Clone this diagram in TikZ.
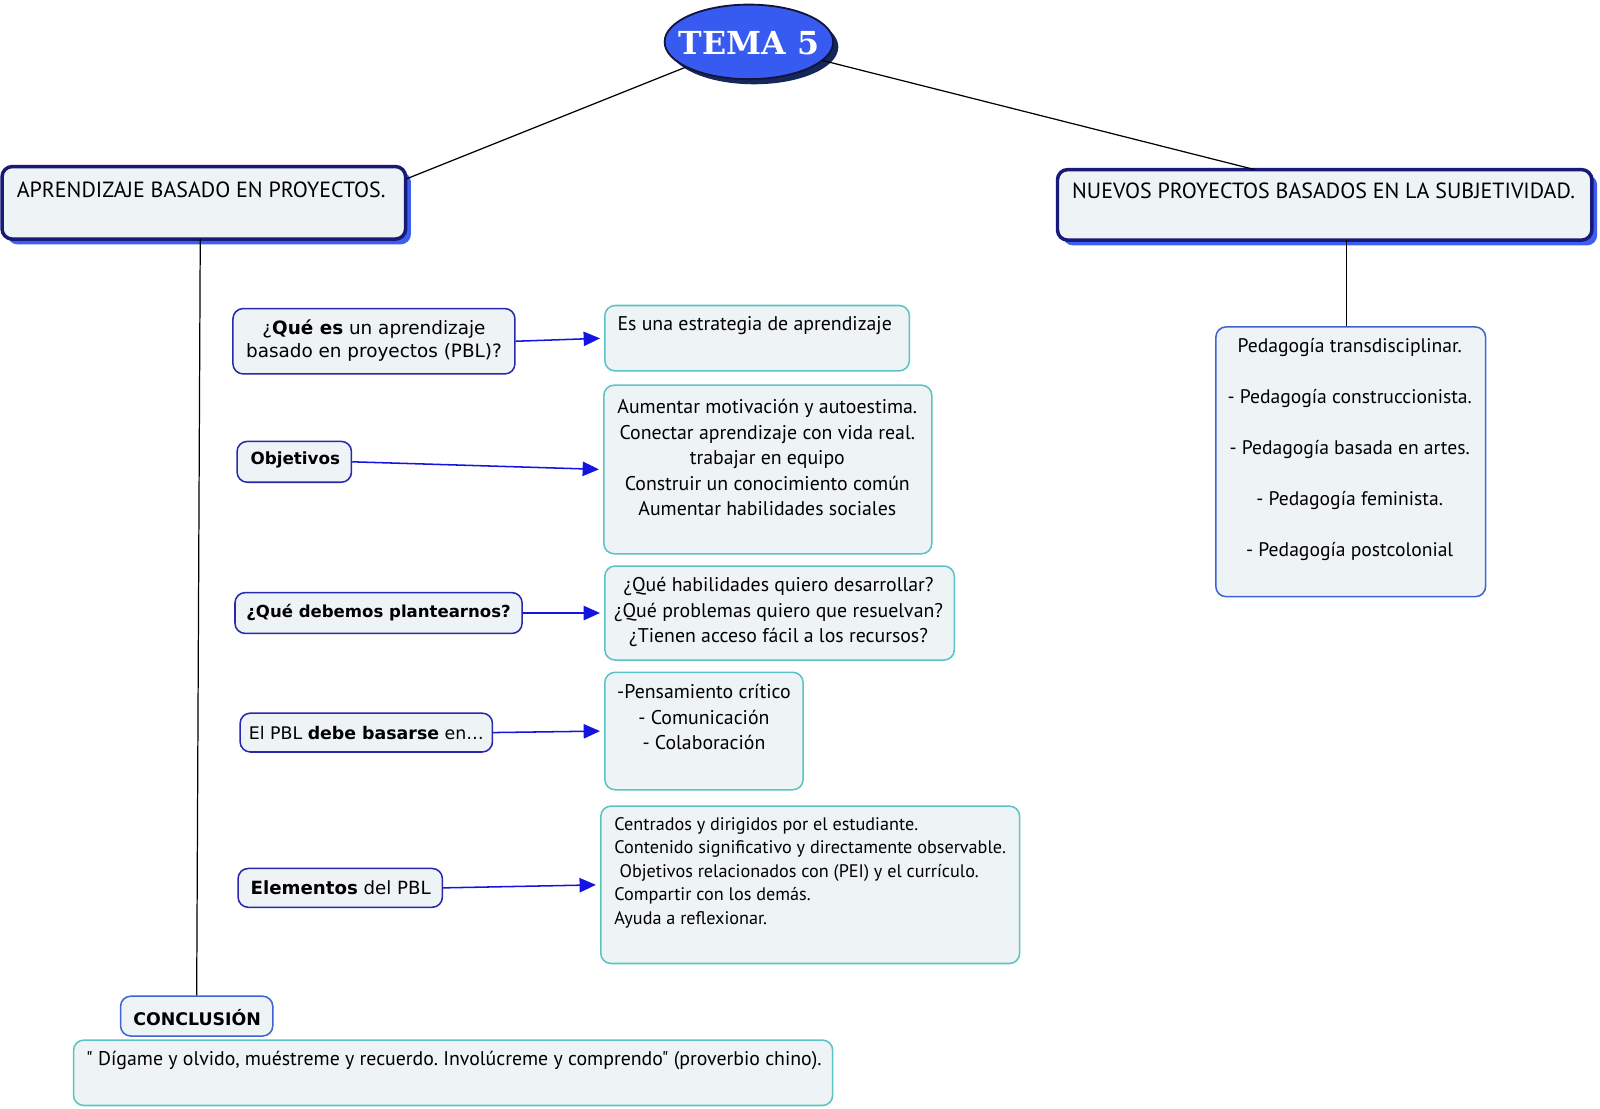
\documentclass[tikz,border=0pt]{standalone}
\usepackage{fontspec}
\usetikzlibrary{shapes.geometric,fit,shadows,arrows.meta}
\frenchspacing
\newfontfamily\cfont{PT Sans}
\newfontfamily\vfont{DejaVu Sans}
\newfontfamily\sfont{DejaVu Serif}
\definecolor{boxfill}{RGB}{238,243,246}
\definecolor{hdborder}{RGB}{25,25,120}
\definecolor{qborder}{RGB}{40,40,175}
\definecolor{shblue}{RGB}{60,95,240}
\definecolor{pborder}{RGB}{60,100,210}
\definecolor{teal}{RGB}{90,195,195}
\definecolor{arrblue}{RGB}{20,20,225}
\definecolor{temafill}{RGB}{55,90,240}
\definecolor{temaborder}{RGB}{20,20,60}
\definecolor{temashadow}{RGB}{20,40,90}
\tikzset{
  hdbox/.style={draw=hdborder, line width=1.7pt, fill=boxfill, rounded corners=5pt, inner sep=0pt,
    drop shadow={shadow xshift=2.6pt, shadow yshift=-2.6pt, fill=shblue, opacity=1}},
  qbox/.style={draw=qborder, line width=0.75pt, fill=boxfill, rounded corners=5pt, inner sep=0pt},
  abox/.style={draw=teal, line width=0.75pt, fill=boxfill, rounded corners=5pt, inner sep=0pt},
  pbox/.style={draw=pborder, line width=0.75pt, fill=boxfill, rounded corners=5pt, inner sep=0pt},
  conn/.style={draw=black, line width=0.6pt},
  arr/.style={draw=arrblue, line width=0.75pt, -{Triangle[length=8pt,width=7pt]}, shorten >=2pt},
  ctext/.style={font=\cfont\fontsize{9.7}{12.5}\selectfont, inner sep=0pt, align=center},
  vtext/.style={font=\vfont\fontsize{8.2}{11.5}\selectfont, inner sep=0pt, align=center},
  hdtext/.style={anchor=west, inner sep=0pt, font=\cfont\fontsize{10.75}{12}\selectfont},
}
\begin{document}
\begin{tikzpicture}[x=0.5pt,y=-0.5pt]
\useasboundingbox (0,0) rectangle (1566,1084.5);
% title
\node[ellipse, draw=temaborder, line width=0.9pt, fill=temafill, inner sep=0pt, minimum width=82.5pt, minimum height=36.5pt,
  drop shadow={shadow xshift=2.5pt, shadow yshift=-2.5pt, fill=temashadow, opacity=1}] (tema) at (733,41) {};
\node[text=white, inner sep=0pt, font=\sfont\bfseries\fontsize{15.5}{18}\selectfont] (temat) at (733,42) {TEMA 5};
% headers
\node[hdbox, fit={(2,163) (397,234)}] (apr) {};
\node[hdtext] (aprt) at (16,186) {APRENDIZAJE BASADO EN PROYECTOS.};
\node[hdbox, fit={(1035,166) (1558,235)}] (nue) {};
\node[hdtext] (nuet) at (1049,187) {NUEVOS PROYECTOS BASADOS EN LA SUBJETIVIDAD.};
\coordinate (aprIn) at (398,175);
\coordinate (nueIn) at (1228,166);
\draw[conn] (tema) -- (aprIn);
\draw[conn] (tema) -- (nueIn);
% pedagogy
\node[pbox, fit={(1190,320) (1454,584)}] (ped) {};
\node[ctext, font=\cfont\fontsize{9.6}{25}\selectfont] (pedt) at (1321,440) {Pedagogía transdisciplinar.\\- Pedagogía construccionista.\\- Pedagogía basada en artes.\\- Pedagogía feminista.\\- Pedagogía postcolonial};
\coordinate (nueOut) at (1318,235);
\draw[conn] (nueOut) -- (nueOut |- ped.north);
% question boxes
\node[qbox, fit={(228,302) (504,366)}] (q1) {};
\node[vtext, font=\vfont\fontsize{9}{11.5}\selectfont] (q1t) at (366,333.5) {¿\textbf{Qué es} un aprendizaje\\basado en proyectos (PBL)?};
\node[qbox, fit={(232,432) (344,472)}] (q2) {};
\node[vtext] (q2t) at (289,450) {\textbf{Objetivos}};
\node[qbox, fit={(230,580) (511,620)}] (q3) {};
\node[vtext, font=\vfont\fontsize{8.1}{11.5}\selectfont] (q3t) at (370.5,600) {\textbf{¿Qué debemos plantearnos?}};
\node[qbox, fit={(235,698) (482,736)}] (q4) {};
\node[vtext, font=\vfont\fontsize{8.5}{11.5}\selectfont] (q4t) at (358.5,717) {El PBL \textbf{debe basarse} en…};
\node[qbox, fit={(233,850) (433,888)}] (q5) {};
\node[vtext, font=\vfont\fontsize{8.9}{11.5}\selectfont] (q5t) at (333.5,869) {\textbf{Elementos} del PBL};
% answer boxes
\node[abox, fit={(592,299) (890,363)}] (a1) {};
\node[ctext, anchor=west] (a1t) at (604,319) {Es una estrategia de aprendizaje};
\node[abox, fit={(591,377) (912,542)}] (a2) {};
\node[ctext] (a2t) at (751,448) {Aumentar motivación y autoestima.\\Conectar aprendizaje con vida real.\\trabajar en equipo\\Construir un conocimiento común\\Aumentar habilidades sociales};
\node[abox, fit={(592,554) (934,646)}] (a3) {};
\node[ctext] (a3t) at (762,599) {¿Qué habilidades quiero desarrollar?\\¿Qué problemas quiero que resuelvan?\\¿Tienen acceso fácil a los recursos?};
\node[abox, fit={(592,658) (786,773)}] (a4) {};
\node[ctext] (a4t) at (689,702) {-Pensamiento crítico\\- Comunicación\\- Colaboración};
\node[abox, fit={(588,789) (998,943)}] (a5) {};
\node[ctext, align=left, anchor=west, font=\cfont\fontsize{8.9}{11.5}\selectfont] (a5t) at (601,854) {Centrados y dirigidos por el estudiante.\\Contenido significativo y directamente observable.\\\hspace*{2.5pt}Objetivos relacionados con (PEI) y el currículo.\\Compartir con los demás.\\Ayuda a reflexionar.};
% arrows
\draw[arr] (q1.east) -- (a1.west);
\draw[arr] (q2.east) -- (a2.west);
\draw[arr] (q3.east) -- (a3.west);
\draw[arr] (q4.east) -- (a4.west);
\draw[arr] (q5.east) -- (a5.west);
% conclusion
\node[pbox, fit={(118,975) (267,1014)}] (con) {};
\node[vtext, font=\vfont\fontsize{8.5}{11.5}\selectfont] (cont) at (193,996) {\textbf{CONCLUSIÓN}};
\node[abox, fit={(72,1018) (815,1082)}] (quo) {};
\node[ctext, anchor=west] (quot) at (84,1038) {" Dígame y olvido, muéstreme y recuerdo. Involúcreme y comprendo" (proverbio chino).};
\coordinate (aprOut) at (196,234);
\draw[conn] (aprOut) -- (con.north);
\end{tikzpicture}
\end{document}
